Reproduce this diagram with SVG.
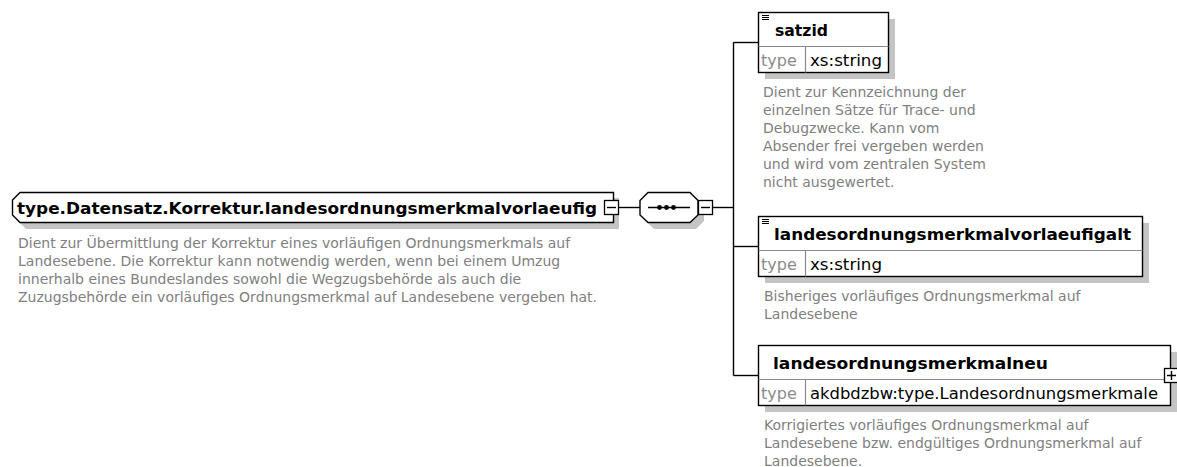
<svg xmlns="http://www.w3.org/2000/svg" width="1177" height="467" viewBox="0 0 1177 467">
<defs>
<style>
.box{fill:#fff;stroke:#000;stroke-width:1.4}
.shadow{fill:#c4c4c4;stroke:none}
.div{stroke:#8a8a8a;stroke-width:1.2;fill:none}
.conn{stroke:#000;stroke-width:1.4;fill:none}
.name{font-family:"DejaVu Sans",Verdana,sans-serif;font-weight:bold;font-size:16.5px;fill:#000}
.typel{font-family:"DejaVu Sans",Verdana,sans-serif;font-size:16px;fill:#8a8a8a}
.typev{font-family:"DejaVu Sans",Verdana,sans-serif;font-size:16px;fill:#000}
.desc{font-family:"DejaVu Sans",Verdana,sans-serif;font-size:14px;fill:#808080}
.btn{fill:#fff;stroke:#000;stroke-width:1.3}
</style>
</defs>
<g id="connectors">
<path class="conn" d="M618.5,207.5 H640"/>
<path class="conn" d="M712.5,207.5 H733.5"/>
<path class="conn" d="M733.5,42.5 V375.5"/>
<path class="conn" d="M733.5,42.5 H758.5"/>
<path class="conn" d="M733.5,246.5 H758.5"/>
<path class="conn" d="M733.5,375.5 H758.5"/>
</g>
<g id="root">
<path class="shadow" d="M26,198 H619 V229 H26 L18,221 V206 Z"/>
<path class="box" d="M20,192.5 H613.5 V222.5 H20 L12.5,215 V200 Z"/>
<text class="name" x="17" y="213.5" textLength="580" lengthAdjust="spacingAndGlyphs">type.Datensatz.Korrektur.landesordnungsmerkmalvorlaeufig</text>
<rect class="btn" x="604.5" y="200.5" width="14" height="14"/>
<path class="conn" d="M607,207.5 H616"/>
<text class="desc" x="18" y="248">Dient zur Übermittlung der Korrektur eines vorläufigen Ordnungsmerkmals auf</text>
<text class="desc" x="18" y="266">Landesebene. Die Korrektur kann notwendig werden, wenn bei einem Umzug</text>
<text class="desc" x="18" y="284">innerhalb eines Bundeslandes sowohl die Wegzugsbehörde als auch die</text>
<text class="desc" x="18" y="302">Zuzugsbehörde ein vorläufiges Ordnungsmerkmal auf Landesebene vergeben hat.</text>
</g>
<g id="sequence">
<path class="shadow" d="M654,198 H696 L704,206 V221 L696,229 H654 L646,221 V206 Z"/>
<path class="box" d="M648,192.5 H690 L698,200.5 V215 L690,222.5 H648 L640,215 V200.5 Z"/>
<path class="conn" d="M648,207.5 H690"/>
<circle cx="659.5" cy="207.5" r="2.4" fill="#000"/>
<circle cx="666.5" cy="207.5" r="2.4" fill="#000"/>
<circle cx="673.5" cy="207.5" r="2.4" fill="#000"/>
<rect class="btn" x="698.5" y="200.5" width="14" height="14"/>
<path class="conn" d="M701,207.5 H710"/>
</g>
<g id="satzid">
<rect class="shadow" x="765" y="19" width="130" height="60"/>
<rect class="box" x="758.5" y="12.5" width="130" height="60"/>
<path class="div" d="M758.5,46.5 H888.5 M805.5,46.5 V72.5"/>
<path d="M762,15.5 H769 M762,17.5 H769 M762,19.5 H769" stroke="#000" stroke-width="1"/>
<text class="name" x="775" y="36" textLength="53" lengthAdjust="spacingAndGlyphs">satzid</text>
<text class="typel" x="761" y="66">type</text>
<text class="typev" x="810" y="66" textLength="72" lengthAdjust="spacingAndGlyphs">xs:string</text>
<text class="desc" x="763" y="97">Dient zur Kennzeichnung der</text>
<text class="desc" x="763" y="115">einzelnen Sätze für Trace- und</text>
<text class="desc" x="763" y="133">Debugzwecke. Kann vom</text>
<text class="desc" x="763" y="151">Absender frei vergeben werden</text>
<text class="desc" x="763" y="169">und wird vom zentralen System</text>
<text class="desc" x="763" y="187">nicht ausgewertet.</text>
</g>
<g id="landesordnungsmerkmalvorlaeufigalt">
<rect class="shadow" x="765" y="223" width="384" height="60"/>
<rect class="box" x="758.5" y="216.5" width="384" height="60"/>
<path class="div" d="M758.5,250.5 H1142.5 M805.5,250.5 V276.5"/>
<path d="M762,219.5 H769 M762,221.5 H769 M762,223.5 H769" stroke="#000" stroke-width="1"/>
<text class="name" x="774" y="240" textLength="357" lengthAdjust="spacingAndGlyphs">landesordnungsmerkmalvorlaeufigalt</text>
<text class="typel" x="761" y="270">type</text>
<text class="typev" x="810" y="270" textLength="72" lengthAdjust="spacingAndGlyphs">xs:string</text>
<text class="desc" x="764" y="301">Bisheriges vorläufiges Ordnungsmerkmal auf</text>
<text class="desc" x="764" y="319">Landesebene</text>
</g>
<g id="landesordnungsmerkmalneu">
<rect class="shadow" x="765" y="352" width="412" height="60"/>
<rect class="box" x="758.5" y="345.5" width="412" height="60"/>
<path class="div" d="M758.5,379.5 H1170.5 M805.5,379.5 V405.5"/>
<text class="name" x="773" y="369" textLength="275" lengthAdjust="spacingAndGlyphs">landesordnungsmerkmalneu</text>
<text class="typel" x="761" y="399">type</text>
<text class="typev" x="810" y="399" textLength="348" lengthAdjust="spacingAndGlyphs">akdbdzbw:type.Landesordnungsmerkmale</text>
<rect class="btn" x="1164.5" y="368.5" width="14" height="14"/>
<path class="conn" d="M1167,375.5 H1176 M1171.5,371 V380"/>
<text class="desc" x="764" y="430">Korrigiertes vorläufiges Ordnungsmerkmal auf</text>
<text class="desc" x="764" y="448">Landesebene bzw. endgültiges Ordnungsmerkmal auf</text>
<text class="desc" x="764" y="466">Landesebene.</text>
</g>
</svg>
